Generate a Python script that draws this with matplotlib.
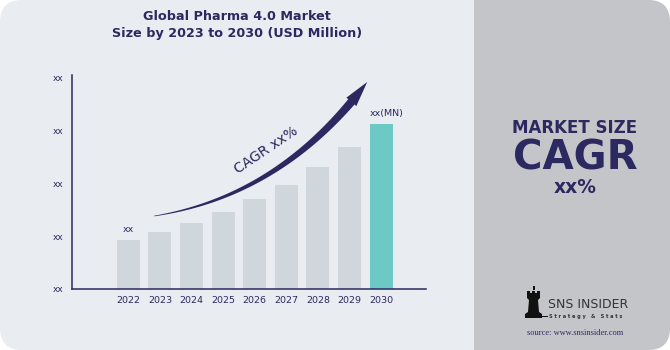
#!/usr/bin/env python3
"""Global Pharma 4.0 market size chart (2022-2030), SNS Insider style."""

import numpy as np
import matplotlib

matplotlib.use("Agg")
import matplotlib.pyplot as plt
from matplotlib.patches import FancyBboxPatch, Rectangle, Polygon

# ---------------------------------------------------------------------------
# Data
# ---------------------------------------------------------------------------
years = ["2022", "2023", "2024", "2025", "2026", "2027", "2028", "2029", "2030"]
values = [49, 57, 66, 77, 90, 104, 122, 142, 165]
ytick_pos = [0, 53, 106, 159, 212]
ytick_labels = ["xx", "xx", "xx", "xx", "xx"]
first_label = "xx"
last_label = "xx(MN)"
cagr_text = "CAGR xx%"

NAVY = "#2b2960"
BAR = "#d0d7dc"
TEAL = "#6dc9c3"
PANEL = "#e9ecf1"
SIDE = "#c4c5c8"

W, H = 670, 350
fig = plt.figure(figsize=(W / 100, H / 100), dpi=100)
fig.patch.set_facecolor("white")

# background layer in pixel coordinates
bg = fig.add_axes([0, 0, 1, 1])
bg.set_xlim(0, W)
bg.set_ylim(H, 0)
bg.axis("off")
bg.add_patch(FancyBboxPatch((0, 0), W, H, boxstyle="round,pad=0,rounding_size=22",
                            fc=PANEL, ec="none"))
bg.add_patch(FancyBboxPatch((474, 0), W - 474, H, boxstyle="round,pad=0,rounding_size=22",
                            fc=SIDE, ec="none"))
bg.add_patch(Rectangle((474, 0), 40, H, fc=SIDE, ec="none"))

# titles
bg.text(237, 16, "Global Pharma 4.0 Market", ha="center", va="center",
        fontsize=9.2, fontweight="bold", color=NAVY)
bg.text(237, 33, "Size by 2023 to 2030 (USD Million)", ha="center", va="center",
        fontsize=9.2, fontweight="bold", color=NAVY)

# side panel text
bg.text(575, 133, "MARKET SIZE", ha="center", va="baseline",
        fontsize=12, fontweight="bold", color=NAVY)
bg.text(575, 169, "CAGR", ha="center", va="baseline",
        fontsize=29, fontweight="bold", color=NAVY)
bg.text(575, 193, "xx%", ha="center", va="baseline",
        fontsize=13.5, fontweight="bold", color=NAVY)

# logo: simple rook icon + wordmark
rook = [(525, 318), (525, 314), (528, 312), (529, 300), (527, 298), (527, 291),
        (530, 291), (530, 293), (532, 293), (532, 291), (535, 291), (535, 293),
        (537, 293), (537, 291), (540, 291), (540, 298), (538, 300), (539, 312),
        (542, 314), (542, 318)]
bg.add_patch(Polygon(rook, closed=True, fc="#111111", ec="none"))
bg.add_patch(Rectangle((532.5, 286), 2, 4, fc="#111111", ec="none"))
bg.add_patch(Rectangle((542, 316), 6, 1.2, fc="#111111", ec="none"))
bg.text(548, 305, "SNS INSIDER", ha="left", va="center", fontsize=9,
        color="#333333", family="Liberation Sans Narrow")
bg.text(549, 316.5, "S t r a t e g y   &   S t a t s", ha="left", va="center",
        fontsize=3.6, color="#333333", fontweight="bold")
bg.text(575, 333, "source: www.snsinsider.com", ha="center", va="center",
        fontsize=6, color=NAVY, family="Liberation Serif")

# ---------------------------------------------------------------------------
# Chart
# ---------------------------------------------------------------------------
ax = fig.add_axes([72 / W, 1 - 289 / H, (426 - 72) / W, (289 - 75) / H])
ax.patch.set_alpha(0)
x = np.arange(len(years))
colors = [BAR] * (len(years) - 1) + [TEAL]
ax.bar(x, values, width=0.73, color=colors, zorder=2)
ax.set_xlim(-1.78, 9.42)
ax.set_ylim(0, 214)
ax.set_xticks(x)
ax.set_xticklabels(years, fontsize=6.8, color=NAVY)
ax.set_yticks(ytick_pos)
ax.set_yticklabels(ytick_labels, fontsize=6.5, color=NAVY)
ax.tick_params(length=0, pad=5)
ax.tick_params(axis="y", pad=6)
for s in ["top", "right"]:
    ax.spines[s].set_visible(False)
for s in ["left", "bottom"]:
    ax.spines[s].set_color(NAVY)
    ax.spines[s].set_linewidth(1.1)

ax.text(x[0], values[0] + 6, first_label, ha="center", va="bottom",
        fontsize=6.8, color=NAVY)
ax.text(x[-1] - 0.36, values[-1] + 6, last_label, ha="left", va="bottom",
        fontsize=6.8, color=NAVY)

# tapered curved arrow (quadratic bezier), built in display space
P0 = np.array([0.82, 73.0])
P1 = np.array([4.85, 93.0])
P2 = np.array([7.56, 207.0])
t = np.linspace(0, 1, 200)
curve = ((1 - t) ** 2)[:, None] * P0 + (2 * (1 - t) * t)[:, None] * P1 + (t ** 2)[:, None] * P2
pts = ax.transData.transform(curve)
tip = pts[-1]
dist = np.hypot(*(pts - tip).T)
head_i = np.argmax(dist < 26)
d = np.gradient(pts, axis=0)
n = np.stack([-d[:, 1], d[:, 0]], axis=1)
n /= np.hypot(n[:, 0], n[:, 1])[:, None]
hw = 0.3 + 3.8 * (t / t[head_i])
body = pts[:head_i + 1]
left = body + n[:head_i + 1] * hw[:head_i + 1, None]
right = body - n[:head_i + 1] * hw[:head_i + 1, None]
base = pts[head_i]
nb = n[head_i]
head = [base + nb * 6.5, tip, base - nb * 6.5]
poly = np.vstack([left, head, right[::-1]])
poly = ax.transData.inverted().transform(poly)
ax.add_patch(Polygon(poly, closed=True, fc=NAVY, ec="none", zorder=3))

ax.text(4.35, 139, cagr_text, ha="center", va="center", rotation=34,
        fontsize=10, color=NAVY, zorder=4)

fig.savefig("out.png", dpi=100)
